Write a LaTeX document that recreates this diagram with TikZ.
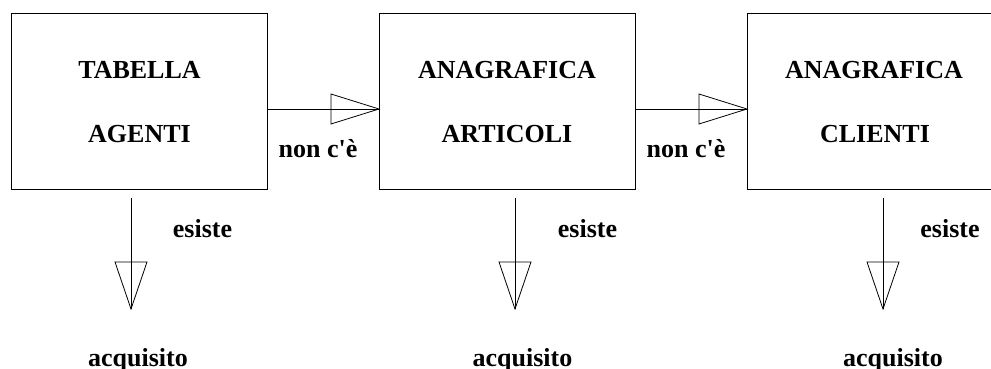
\documentclass[tikz,border=0pt]{standalone}
\usepackage{fontspec}
\setmainfont{Liberation Serif}[Ligatures=TeXOff]
\begin{document}
\begin{tikzpicture}[x=1pt,y=-1pt,
  box/.style={draw,line width=0.8pt,minimum width=256pt,minimum height=176pt,outer sep=0pt,inner sep=0pt},
  txt/.style={anchor=base,inner sep=0pt,font=\fontsize{26}{30}\selectfont\bfseries},
  conn/.style={line width=0.8pt}]
\useasboundingbox (0,0) rectangle (991,369);
% boxes
\node[box] (b1) at (139,101) {};
\node[box] (b2) at (507,101) {};
\node[box] (b3) at (875,101) {};
% box texts
\node[txt] (t1a) at (139.5,78) {TABELLA};
\node[txt] (t1b) at (139.5,142) {AGENTI};
\node[txt] (t2a) at (507,78) {ANAGRAFICA};
\node[txt] (t2b) at (507,142) {ARTICOLI};
\node[txt] (t3a) at (874,78) {ANAGRAFICA};
\node[txt] (t3b) at (875,142) {CLIENTI};
% horizontal connectors
\draw[conn] (b1.east|-0,109) -- (b2.west|-0,109);
\draw[conn] (b2.west|-0,109) -- ++(-48,-15) -- ++(0,30) -- cycle;
\draw[conn] (b2.east|-0,109) -- (b3.west|-0,109);
\draw[conn] (b3.west|-0,109) -- ++(-48,-15) -- ++(0,30) -- cycle;
\node[txt] (n1) at (318,157) {non c'è};
\node[txt] (n2) at (686,157) {non c'è};
% vertical connectors
\coordinate (s1) at (131,198); \coordinate (e1) at (131,309);
\coordinate (s2) at (515,198); \coordinate (e2) at (515,309);
\coordinate (s3) at (883,198); \coordinate (e3) at (883,309);
\foreach \i in {1,2,3}{
  \draw[conn] (s\i) -- (e\i);
  \draw[conn] (e\i) -- ++(-16,-47) -- ++(32,0) -- cycle;
}
\node[txt] (x1) at (202.5,237) {esiste};
\node[txt] (x2) at (587.5,237) {esiste};
\node[txt] (x3) at (950,237) {esiste};
\node[txt] (a1) at (138,366) {acquisito};
\node[txt] (a2) at (522.5,366) {acquisito};
\node[txt] (a3) at (893,366) {acquisito};
\end{tikzpicture}
\end{document}
